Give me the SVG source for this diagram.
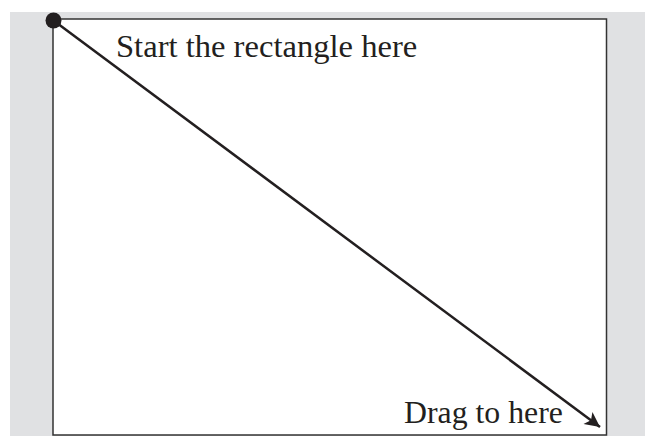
<svg xmlns="http://www.w3.org/2000/svg" width="645" height="436" viewBox="0 0 645 436">
<style>
text{font-family:"Liberation Serif","Times New Roman",serif;font-size:32px;fill:#231f20}
</style>
<defs>
<marker id="ah" viewBox="0 0 10 10" refX="10" refY="5" markerWidth="7.5" markerHeight="6" orient="auto" markerUnits="strokeWidth">
<path d="M0,0 L10,5 L0,10 L2.5,5 Z" fill="#231f20"/>
</marker>
</defs>
<rect width="645" height="436" fill="#fff"/>
<rect x="10" y="12" width="635" height="424" fill="#e0e1e3"/>
<g id="canvas">
<rect x="53" y="19" width="553.5" height="416" fill="#fff" stroke="#333" stroke-width="1.5"/>
</g>
<g id="connectors">
<line x1="53.5" y1="20.5" x2="600" y2="427" stroke="#231f20" stroke-width="2.5" marker-end="url(#ah)"/>
</g>
<g id="start">
<circle cx="53.5" cy="20.5" r="8" fill="#231f20"/>
<text x="116" y="57" style="font-size:32.6px">Start the rectangle here</text>
</g>
<g id="end">
<text x="404" y="423" style="font-size:31.8px">Drag to here</text>
</g>
</svg>
